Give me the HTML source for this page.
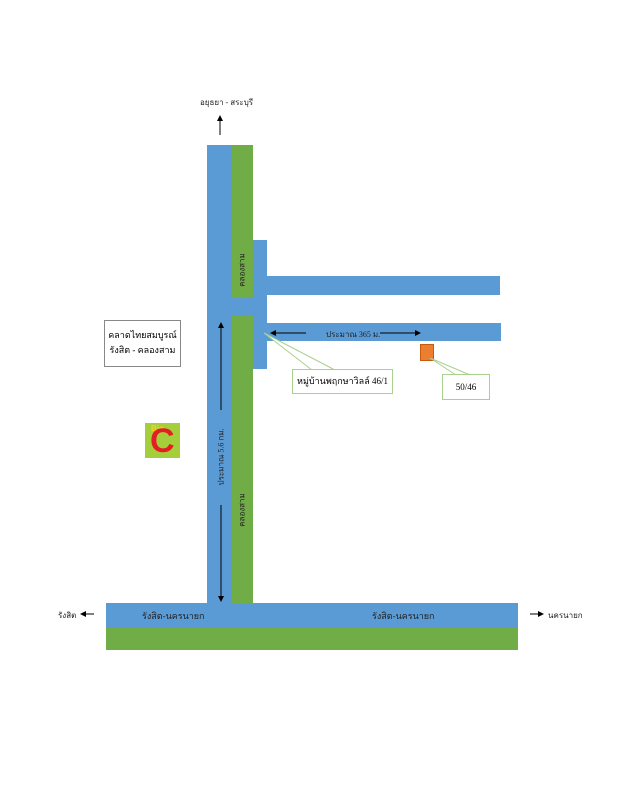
<!DOCTYPE html>
<html><head><meta charset="utf-8"><style>
body{margin:0;width:619px;height:800px;background:#fff;position:relative;overflow:hidden;font-family:"Liberation Serif","Noto Serif CJK SC",serif;}
.a{position:absolute}
.b{background:#5b9bd5}.g{background:#70ad47}
.t{position:absolute;font-size:9px;color:#222;white-space:nowrap}
</style></head><body>
<div class="a b" style="left:207px;top:145px;width:24px;height:460px"></div>
<div class="a b" style="left:231px;top:296px;width:22px;height:20px"></div>
<div class="a g" style="left:231px;top:145px;width:22px;height:153px"></div>
<div class="a g" style="left:231px;top:315px;width:22px;height:290px"></div>
<div class="a b" style="left:253px;top:240px;width:14px;height:129px"></div>
<div class="a b" style="left:267px;top:276px;width:233px;height:19px"></div>
<div class="a b" style="left:267px;top:323px;width:234px;height:18px"></div>
<div class="a b" style="left:106px;top:603px;width:412px;height:24px"></div>
<div class="a g" style="left:106px;top:627px;width:412px;height:23px"></div>
<div class="a" style="left:420px;top:344px;width:14px;height:17px;background:#ed7d31;border:1px solid #c55a11;box-sizing:border-box"></div>
<svg class="a" style="left:0;top:0" width="619" height="800">
<defs><marker id="m" markerWidth="6" markerHeight="6" refX="5" refY="3" orient="auto"><path d="M0,0L6,3L0,6z" fill="#000"/></marker></defs>
<g stroke="#000" stroke-width="1" fill="none">
<line x1="220" y1="135" x2="220" y2="116" marker-end="url(#m)"/>
<line x1="221" y1="410" x2="221" y2="323" marker-end="url(#m)"/>
<line x1="221" y1="505" x2="221" y2="601" marker-end="url(#m)"/>
<line x1="306" y1="333" x2="271" y2="333" marker-end="url(#m)"/>
<line x1="380" y1="333" x2="420" y2="333" marker-end="url(#m)"/>
<line x1="94" y1="614" x2="81" y2="614" marker-end="url(#m)"/>
<line x1="530" y1="614" x2="543" y2="614" marker-end="url(#m)"/>
</g>
<g stroke="#a9d18e" stroke-width="1" fill="#fff">
<polygon points="312,370 264,333 335,370"/>
<polygon points="456,375 430,358 470,375"/>
</g>
</svg>
<div class="a" style="left:292px;top:369px;width:101px;height:25px;border:1px solid #a9d18e;box-sizing:border-box;background:#fff;font-size:9px;line-height:23px;text-align:center">หมู่บ้านพฤกษาวิลล์ 46/1</div>
<div class="a" style="left:442px;top:374px;width:48px;height:26px;border:1px solid #a9d18e;box-sizing:border-box;background:#fff;font-size:9px;line-height:24px;text-align:center">50/46</div>
<div class="a" style="left:104px;top:320px;width:77px;height:47px;border:1px solid #888;box-sizing:border-box;font-size:9px;line-height:15px;text-align:center;padding-top:7px">คลาดไทยสมบูรณ์<br>รังสิต - คลองสาม</div>
<div class="a" style="left:145px;top:423px;width:35px;height:35px;background:#a4cf3a;overflow:hidden"></div>
<div class="t" style="left:151px;top:424px;color:#f6d21c;font-weight:bold;font-size:8px;font-family:'Liberation Sans',sans-serif">Big</div>
<div class="t" style="left:150px;top:426px;color:#e31e24;font-weight:bold;font-size:34px;line-height:30px;font-family:'Liberation Sans',sans-serif">C</div>
<div class="t" style="left:200px;top:96px;font-size:8px">อยุธยา - สระบุรี</div>
<div class="t" style="left:326px;top:328px;font-size:8px">ประมาณ 365 ม.</div>
<div class="t" style="left:58px;top:609px;font-size:8px">รังสิต</div>
<div class="t" style="left:548px;top:609px;font-size:8px">นครนายก</div>
<div class="t" style="left:142px;top:609px">รังสิต-นครนายก</div>
<div class="t" style="left:372px;top:609px">รังสิต-นครนายก</div>
<div class="t" style="left:221px;top:457px;transform:translate(-50%,-50%) rotate(-90deg);font-size:8px">ประมาณ 5.6 กม.</div>
<div class="t" style="left:242px;top:270px;transform:translate(-50%,-50%) rotate(-90deg);font-size:8px">คลองสาม</div>
<div class="t" style="left:242px;top:510px;transform:translate(-50%,-50%) rotate(-90deg);font-size:8px">คลองสาม</div>
</body></html>
